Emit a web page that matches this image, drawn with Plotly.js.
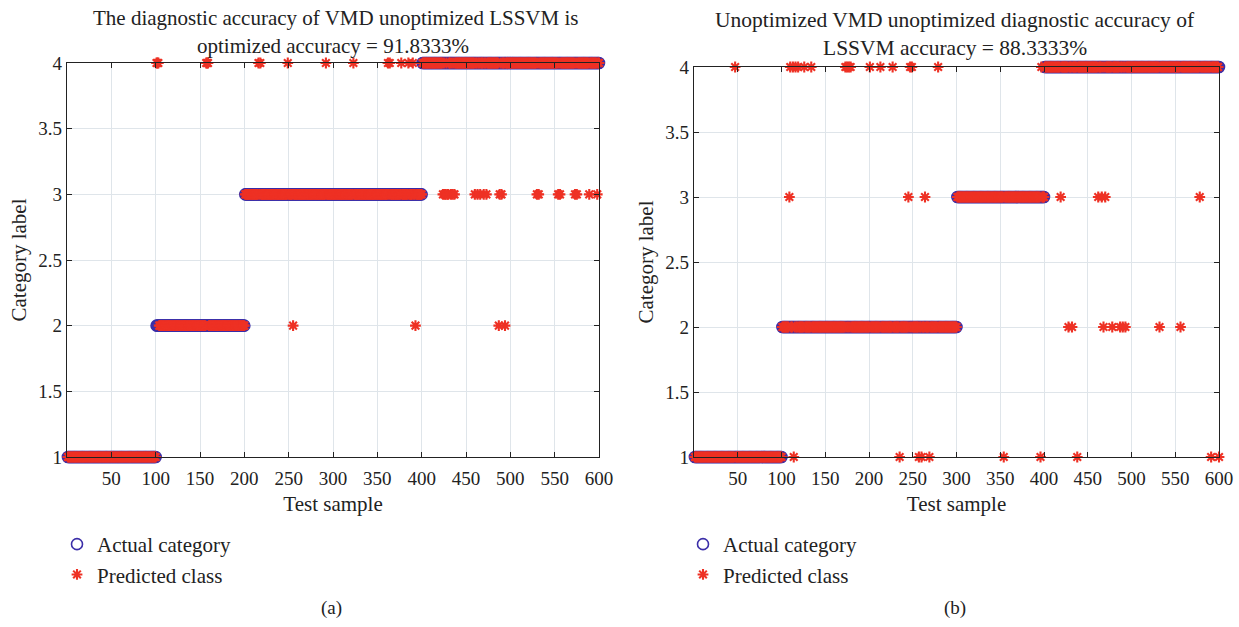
<!DOCTYPE html>
<html>
<head>
<meta charset="utf-8">
<script src="https://cdn.plot.ly/plotly-3.0.1.min.js"></script>
<style>html,body{margin:0;padding:0;background:#fff;}#chart{width:1239px;height:627px;}</style>
</head>
<body>
<div id="chart"></div>
<script>
// ---- Panel (a): actual category segments ----
const segStartA = [1, 101, 201, 401];
const segEndA   = [100, 200, 400, 600];
const segClassA = [1, 2, 3, 4];
// misclassified samples (a)
const errSampleA = [101,102,103,157,158,159,216,218,249,292,323,362,364,377,385,390,
                    424,426,427,429,430,433,435,437,460,463,466,470,473,488,490,530,532,554,556,573,575,589,598,
                    255,393,487,494];
const errClassA  = [4,4,4,4,4,4,4,4,4,4,4,4,4,4,4,4,
                    3,3,3,3,3,3,3,3,3,3,3,3,3,3,3,3,3,3,3,3,3,3,3,
                    2,2,2,2];
// ---- Panel (b) ----
const segStartB = [1, 101, 301, 401];
const segEndB   = [100, 300, 400, 600];
const segClassB = [1, 2, 3, 4];
const errSampleB = [47,110,113,116,119,126,134,173,175,177,179,201,213,227,247,249,279,397,
                    109,245,264,419,462,466,470,578,
                    428,432,468,478,487,490,493,532,556,
                    114,235,257,260,269,354,396,438,591,600];
const errClassB  = [4,4,4,4,4,4,4,4,4,4,4,4,4,4,4,4,4,4,
                    3,3,3,3,3,3,3,3,
                    2,2,2,2,2,2,2,2,2,
                    1,1,1,1,1,1,1,1,1,1];

const titleA = ["The diagnostic accuracy of VMD unoptimized LSSVM is", "optimized accuracy = 91.8333%"];
const titleB = ["Unoptimized VMD unoptimized diagnostic accuracy of", "LSSVM accuracy = 88.3333%"];
const xTicks = [50,100,150,200,250,300,350,400,450,500,550,600];
const yTicks = [1,1.5,2,2.5,3,3.5,4];

function buildActual(starts, ends, classes){
  const xs=[], ys=[];
  for(let s=0;s<starts.length;s++){
    for(let i=starts[s];i<=ends[s];i++){ xs.push(i); ys.push(classes[s]); }
  }
  return {xs, ys};
}
function buildPred(actual, errS, errC){
  const ys = actual.ys.slice();
  for(let k=0;k<errS.length;k++){ ys[errS[k]-1] = errC[k]; }
  return {xs: actual.xs.slice(), ys};
}
const actA = buildActual(segStartA, segEndA, segClassA);
const preA = buildPred(actA, errSampleA, errClassA);
const actB = buildActual(segStartB, segEndB, segClassB);
const preB = buildPred(actB, errSampleB, errClassB);

const BLUE = '#3b2ea8', RED = '#ee3124';
const FONT = 'Liberation Serif, Times New Roman, serif';

function actualTrace(d, xa, ya, leg){
  return {x:d.xs, y:d.ys, xaxis:xa, yaxis:ya, type:'scatter', mode:'markers', name:'Actual category',
    legend:leg, cliponaxis:false,
    marker:{symbol:'circle-open', size:11, color:BLUE, line:{width:1.6, color:BLUE}}};
}
function predTrace(d, xa, ya, leg){
  return {x:d.xs, y:d.ys, xaxis:xa, yaxis:ya, type:'scatter', mode:'markers', name:'Predicted class',
    legend:leg, cliponaxis:false,
    marker:{symbol:'asterisk-open', size:9, color:RED, line:{width:2.1, color:RED}}};
}

const data = [
  actualTrace(actA,'x','y','legend'), predTrace(preA,'x','y','legend'),
  actualTrace(actB,'x2','y2','legend2'), predTrace(preB,'x2','y2','legend2')
];

function xAxis(dom, anchor){
  return {domain:dom, anchor:anchor, range:[0,600], tickvals:xTicks, ticks:'inside', ticklen:5,
    tickcolor:'#222', showline:true, linecolor:'#222', linewidth:1.2, mirror:'ticks',
    showgrid:true, gridcolor:'#dfe5ea', zeroline:false, ticklabelstandoff:4,
    tickfont:{family:FONT, size:19, color:'#222'},
    title:{text:'Test sample', font:{family:FONT, size:21, color:'#222'}, standoff:8}};
}
function yAxis(dom, anchor){
  return {domain:dom, anchor:anchor, range:[1,4], tickvals:yTicks, ticks:'inside', ticklen:5,
    tickcolor:'#222', showline:true, linecolor:'#222', linewidth:1.2, mirror:'ticks',
    showgrid:true, gridcolor:'#dfe5ea', zeroline:false,
    tickfont:{family:FONT, size:19, color:'#222'},
    title:{text:'Category label', font:{family:FONT, size:21, color:'#222'}, standoff:6}};
}
const H = 627, W = 1239;
function ann(text, px, py, size){
  return {text:text, x:px/W, y:1-py/H, xref:'paper', yref:'paper', xanchor:'center', yanchor:'middle',
    showarrow:false, font:{family:FONT, size:size, color:'#222'}};
}
const layout = {
  width:W, height:H, margin:{l:0,r:0,t:0,b:0}, paper_bgcolor:'#fff', plot_bgcolor:'#fff',
  font:{family:FONT, color:'#222'},
  xaxis: xAxis([67/W, 599/W], 'y'),
  yaxis: yAxis([1-457/H, 1-63/H], 'x'),
  xaxis2: xAxis([694/W, 1219/W], 'y2'),
  yaxis2: yAxis([1-457/H, 1-67/H], 'x2'),
  legend:{x:57/W, y:1-524/H, xanchor:'left', yanchor:'top', bgcolor:'rgba(0,0,0,0)',
    font:{family:FONT, size:21, color:'#222'}, tracegroupgap:0},
  legend2:{x:683/W, y:1-524/H, xanchor:'left', yanchor:'top', bgcolor:'rgba(0,0,0,0)',
    font:{family:FONT, size:21, color:'#222'}, tracegroupgap:0},
  annotations:[
    ann(titleA[0], 335, 18, 21), ann(titleA[1], 333, 46, 21),
    ann(titleB[0], 955, 20, 21.5), ann(titleB[1], 955, 48, 21.5),
    ann('(a)', 331, 608, 19), ann('(b)', 955, 608, 19)
  ]
};
Plotly.newPlot('chart', data, layout, {displayModeBar:false, staticPlot:true});
</script>
</body>
</html>
